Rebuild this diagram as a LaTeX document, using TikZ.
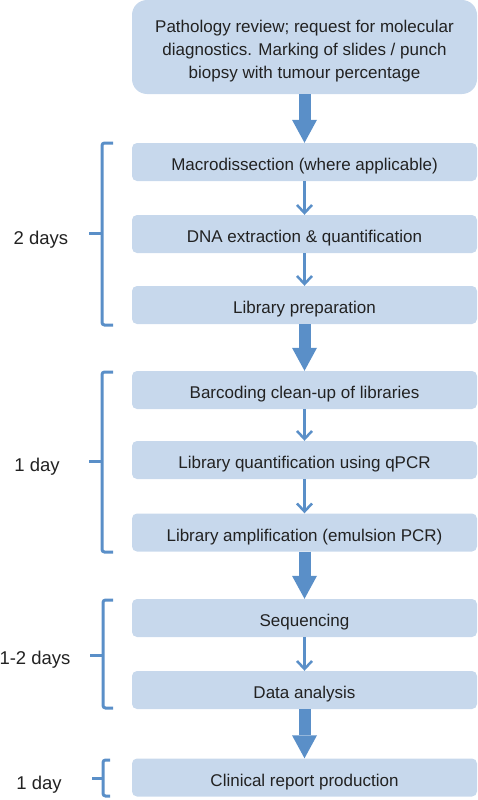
\documentclass[tikz,border=0pt]{standalone}
\usepackage{fontspec}
\setmainfont{Liberation Sans}
\usetikzlibrary{arrows.meta}
\definecolor{boxfill}{HTML}{C7D8EC}
\definecolor{arrowblue}{HTML}{5A8FC8}
\definecolor{txt}{HTML}{222222}
\tikzset{
  basebox/.style={fill=boxfill, rounded corners=5pt, minimum width=345pt, minimum height=38pt, inner sep=0pt, text=txt, font=\fontsize{17}{23}\selectfont, align=center},
  stepbox/.style={basebox, text height=17pt, text depth=0pt},
  topbox/.style={basebox, rounded corners=15pt, minimum height=94pt},
  thinarrow/.style={draw=arrowblue, line width=2.5pt, -{Straight Barb[length=8pt,width=15pt]}},
  bigarrow/.style={draw=arrowblue, line width=12pt, -{Triangle[length=23pt,width=25pt,line width=0pt]}},
  bracket/.style={draw=arrowblue, line width=3pt, rounded corners=2.5pt},
  daylabel/.style={text=txt, font=\fontsize{18.5}{22}\selectfont, inner sep=0pt}
}
\begin{document}
\begin{tikzpicture}[x=1pt,y=-1pt]
\useasboundingbox (0,0) rectangle (478,800);
\node[topbox] (B0) at (304.5,47) {\rule{0pt}{21.5pt}Pathology review; request for molecular\\diagnostics. Marking of slides / punch\\biopsy with tumour percentage};
\node[stepbox] (B1) at (304.5,162) {Macrodissection (where applicable)};
\node[stepbox] (B2) at (304.5,234) {DNA extraction \& quantification};
\node[stepbox] (B3) at (304.5,305) {Library preparation};
\node[stepbox] (B4) at (304.5,390) {Barcoding clean-up of libraries};
\node[stepbox] (B5) at (304.5,460) {Library quantification using qPCR};
\node[stepbox] (B6) at (304.5,532.5) {Library amplification (emulsion PCR)};
\node[stepbox] (B7) at (304.5,618) {Sequencing};
\node[stepbox] (B8) at (304.5,690) {Data analysis};
\node[stepbox] (B9) at (304.5,777.5) {Clinical report production};

\draw[bigarrow] (B0.south) -- (B1.north);
\draw[thinarrow] (B1.south) -- (B2.north);
\draw[thinarrow] (B2.south) -- (B3.north);
\draw[bigarrow] (B3.south) -- (B4.north);
\draw[thinarrow] (B4.south) -- (B5.north);
\draw[thinarrow] (B5.south) -- (B6.north);
\draw[bigarrow] (B6.south) -- (B7.north);
\draw[thinarrow] (B7.south) -- (B8.north);
\draw[bigarrow] (B8.south) -- (B9.north);

% brackets
\coordinate (k1t) at (113,143); \coordinate (k1b) at (113,325); \coordinate (k1m) at (89,233);
\draw[bracket] (k1t) -- (102,143) -- (102,325) -- (k1b);
\draw[bracket] (102,233) -- (k1m);
\node[daylabel] (L1) at (41,239.5) {2 days};

\coordinate (k2t) at (113,372); \coordinate (k2b) at (113,552); \coordinate (k2m) at (89,461);
\draw[bracket] (k2t) -- (102,372) -- (102,552) -- (k2b);
\draw[bracket] (102,461) -- (k2m);
\node[daylabel] (L2) at (37,466.5) {1 day};

\coordinate (k3t) at (113,600); \coordinate (k3b) at (113,708); \coordinate (k3m) at (90,655);
\draw[bracket] (k3t) -- (103,600) -- (103,708) -- (k3b);
\draw[bracket] (103,655) -- (k3m);
\node[daylabel] (L3) at (35,659.5) {1-2 days};

\coordinate (k4t) at (110,760); \coordinate (k4b) at (110,796); \coordinate (k4m) at (92,778);
\draw[bracket] (k4t) -- (103,760) -- (103,796) -- (k4b);
\draw[bracket] (103,778) -- (k4m);
\node[daylabel] (L4) at (39,784.5) {1 day};
\end{tikzpicture}
\end{document}
